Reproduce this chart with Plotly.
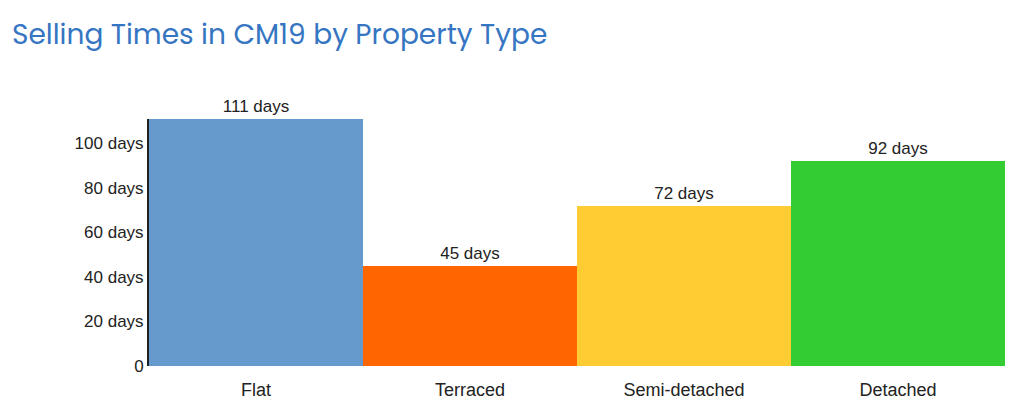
import plotly.graph_objects as go

categories = ["Flat", "Terraced", "Semi-detached", "Detached"]
days = [111, 45, 72, 92]
colors = ["#6699CC", "#FF6600", "#FFCC33", "#33CC33"]
tick_vals = [0, 20, 40, 60, 80, 100]
tick_text = ["0", "20 days", "40 days", "60 days", "80 days", "100 days"]

FONT = "Liberation Sans, Arial, sans-serif"

fig = go.Figure(go.Bar(
    x=categories, y=days,
    marker=dict(color=colors, line=dict(width=0)),
    text=[f"{d} days" for d in days],
    textposition="outside",
    textfont=dict(family=FONT, size=17, color="#222222"),
    cliponaxis=False,
))

fig.update_layout(
    width=1008, height=403,
    paper_bgcolor="white", plot_bgcolor="white",
    margin=dict(l=141, r=11, t=111, b=45),
    bargap=0,
    showlegend=False,
    title=dict(
        text="Selling Times in CM19 by Property Type",
        font=dict(family="Poppins, Open Sans, sans-serif", size=28, color="#3575C2"),
        xref="container", yref="container",
        x=4/1008, xanchor="left",
        y=1 - 26/403, yanchor="middle",
    ),
    xaxis=dict(
        showgrid=False, showline=False, zeroline=False,
        tickfont=dict(family=FONT, size=18, color="#222222"),
        ticks="", ticklen=0,
        ticklabelstandoff=11,
    ),
    yaxis=dict(
        range=[0, 111],
        showgrid=False, zeroline=False,
        showline=True, linecolor="#222222", linewidth=2,
        tickvals=tick_vals, ticktext=tick_text,
        ticks="",
        ticklabelstandoff=0,
        tickfont=dict(family=FONT, size=17, color="#222222"),
    ),
)

fig.write_html("out.html")
